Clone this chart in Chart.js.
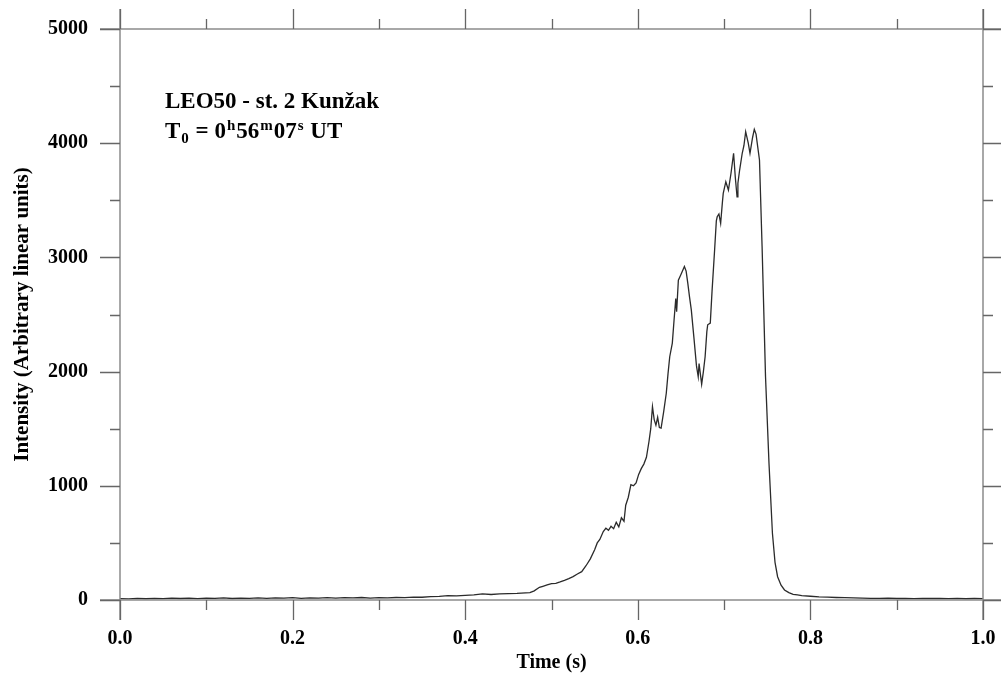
<!DOCTYPE html>
<html lang="en">
<head>
    <meta charset="UTF-8">
    <title>LEO50 - st. 2 Kunžak</title>
    <script src="https://cdn.jsdelivr.net/npm/chart.js"></script>
    <style>
        html, body {
            margin: 0;
            background: #fff;
        }
        #wrap {
            width: 1001px;
            height: 675px;
            position: relative;
        }
    </style>
</head>
<body>
    <div id="wrap">
        <canvas id="lightCurve" width="1001" height="675"></canvas>
    </div>

    <script>
        // time (s) and intensity
        const timeS = [
            0.00, 0.01, 0.02, 0.03, 0.04, 0.05, 0.06, 0.07, 0.08, 0.09,
            0.10, 0.11, 0.12, 0.13, 0.14, 0.15, 0.16, 0.17, 0.18, 0.19,
            0.20, 0.21, 0.22, 0.23, 0.24, 0.25, 0.26, 0.27, 0.28, 0.29,
            0.30, 0.31, 0.32, 0.33, 0.34, 0.35, 0.36, 0.37, 0.38, 0.39,
            0.40, 0.41, 0.42, 0.43, 0.44, 0.45, 0.46, 0.47, 0.475, 0.48,
            0.486, 0.49, 0.495, 0.50, 0.505, 0.51, 0.515, 0.52, 0.525, 0.53,
            0.535, 0.54, 0.545, 0.55, 0.553, 0.556, 0.56, 0.563, 0.566, 0.569,
            0.572, 0.575, 0.578, 0.581, 0.584, 0.586, 0.589, 0.592, 0.595, 0.598,
            0.601, 0.604, 0.607, 0.610, 0.613, 0.615, 0.617, 0.619, 0.621, 0.623,
            0.625, 0.627, 0.630, 0.633, 0.635, 0.637, 0.640, 0.642, 0.644, 0.645,
            0.647, 0.650, 0.654, 0.656, 0.658, 0.660, 0.662, 0.665, 0.668, 0.670,
            0.671, 0.673, 0.674, 0.676, 0.678, 0.680, 0.681, 0.684, 0.686, 0.689,
            0.691, 0.692, 0.694, 0.696, 0.698, 0.699, 0.702, 0.705, 0.708, 0.711,
            0.713, 0.715, 0.716, 0.718, 0.721, 0.723, 0.725, 0.728, 0.730, 0.733,
            0.735, 0.737, 0.741, 0.744, 0.748, 0.752, 0.756, 0.759, 0.762, 0.766,
            0.770, 0.775, 0.780, 0.785, 0.79, 0.80, 0.81, 0.82, 0.83, 0.84,
            0.85, 0.86, 0.87, 0.88, 0.89, 0.90, 0.91, 0.92, 0.93, 0.94,
            0.95, 0.96, 0.97, 0.98, 0.99, 1.00
        ];
        const intensity = [
            12, 10, 14, 11, 15, 12, 16, 13, 17, 12,
            16, 14, 18, 13, 17, 15, 19, 14, 18, 16,
            20, 15, 19, 17, 21, 16, 20, 18, 22, 17,
            21, 19, 22, 20, 25, 24, 29, 31, 38, 36,
            41, 45, 53, 48, 53, 56, 58, 62, 64, 80,
            111, 120, 132, 143, 146, 158, 172, 188, 205, 228,
            248, 300, 360, 440, 500, 530, 600, 628, 610, 645,
            625, 680, 640, 720, 690, 830, 900, 1010, 1000, 1025,
            1100, 1150, 1190, 1250, 1390, 1500, 1693, 1580, 1530, 1600,
            1510, 1505, 1650, 1810, 1980, 2130, 2250, 2450, 2640, 2525,
            2800, 2850, 2920, 2880, 2770, 2650, 2540, 2300, 2050, 1955,
            2070, 1950, 1890, 2000, 2130, 2350, 2410, 2425, 2700, 3065,
            3320, 3356, 3380, 3298, 3480, 3560, 3663, 3590, 3737, 3912,
            3700, 3531, 3650, 3765, 3912, 3980, 4101, 4000, 3912, 4050,
            4121, 4080, 3853, 3100, 1955, 1200, 584, 330, 204, 130,
            88, 65, 50, 44, 38, 33, 28, 25, 22, 20,
            18, 16, 15, 14, 16, 13, 15, 12, 14, 13,
            15, 12, 14, 11, 13, 12
        ];

        const xMajor = [0, 0.2, 0.4, 0.6, 0.8, 1.0];
        const yMajor = [0, 1000, 2000, 3000, 4000, 5000];

        const serif = '"Liberation Serif", "Times New Roman", serif';
        const frameColor = '#8c8c8c';

        function isMajor(v, list) {
            return list.some(m => Math.abs(m - v) < 1e-6);
        }

        // frame with outward ticks on all four sides, lines running past the corners
        const framePlugin = {
            id: 'frame',
            afterDraw(chart) {
                const ctx = chart.ctx;
                const a = chart.chartArea;
                const xs = chart.scales.x;
                const ys = chart.scales.y;
                ctx.save();
                ctx.strokeStyle = frameColor;
                ctx.lineWidth = 1.5;
                ctx.beginPath();
                ctx.moveTo(a.left - 20, a.top); ctx.lineTo(chart.width, a.top);
                ctx.moveTo(a.left - 20, a.bottom); ctx.lineTo(chart.width, a.bottom);
                ctx.moveTo(a.left, a.top - 20); ctx.lineTo(a.left, a.bottom + 20);
                ctx.moveTo(a.right, a.top - 20); ctx.lineTo(a.right, a.bottom + 20);
                ctx.stroke();

                ctx.strokeStyle = '#666';
                ctx.lineWidth = 1.3;
                ctx.beginPath();
                xs.ticks.forEach(t => {
                    const px = Math.round(xs.getPixelForValue(t.value)) + 0.5;
                    const len = isMajor(t.value, xMajor) ? 20 : 10;
                    ctx.moveTo(px, a.bottom); ctx.lineTo(px, a.bottom + len);
                    ctx.moveTo(px, a.top); ctx.lineTo(px, a.top - len);
                });
                ys.ticks.forEach(t => {
                    const py = Math.round(ys.getPixelForValue(t.value)) + 0.5;
                    const len = isMajor(t.value, yMajor) ? 20 : 10;
                    ctx.moveTo(a.left, py); ctx.lineTo(a.left - len, py);
                    ctx.moveTo(a.right, py); ctx.lineTo(a.right + len, py);
                });
                ctx.stroke();

                // annotation in the upper left
                ctx.fillStyle = '#000';
                ctx.textBaseline = 'alphabetic';
                ctx.textAlign = 'left';
                const big = 'bold 23px ' + serif;
                const small = 'bold 15px ' + serif;
                ctx.font = big;
                ctx.fillText('LEO50 - st. 2 Kunžak', 165, 108);

                let x = 165;
                const base = 138;
                const parts = [
                    ['T', big, 0], ['0', small, 5], [' = 0', big, 0], ['h', small, -8],
                    ['56', big, 0], ['m', small, -8], ['07', big, 0], ['s', small, -8],
                    [' UT', big, 0]
                ];
                parts.forEach(p => {
                    ctx.font = p[1];
                    ctx.fillText(p[0], x, base + p[2]);
                    x += ctx.measureText(p[0]).width + 1;
                });
                ctx.restore();
            }
        };

        const points = timeS.map((t, i) => ({ x: t, y: intensity[i] }));

        function noEdgePadding(s) {
            s.paddingTop = 0;
            s.paddingBottom = 0;
            s.paddingLeft = 0;
            s.paddingRight = 0;
        }

        new Chart(document.getElementById('lightCurve'), {
            type: 'line',
            data: {
                datasets: [{
                    data: points,
                    borderColor: '#2b2b2b',
                    borderWidth: 1.3,
                    pointRadius: 0,
                    tension: 0,
                    fill: false
                }]
            },
            options: {
                responsive: false,
                animation: false,
                layout: {
                    padding: { top: 29, right: 18, bottom: 0, left: 0 }
                },
                plugins: {
                    legend: { display: false },
                    tooltip: { enabled: false }
                },
                scales: {
                    x: {
                        type: 'linear',
                        min: 0,
                        max: 1,
                        grid: { display: false },
                        border: { display: false },
                        ticks: {
                            stepSize: 0.1,
                            autoSkip: false,
                            maxRotation: 0,
                            padding: 19,
                            color: '#000',
                            font: { family: serif, size: 20, weight: 'bold' },
                            callback: v => isMajor(v, xMajor) ? v.toFixed(1) : ''
                        },
                        title: {
                            display: true,
                            text: 'Time (s)',
                            color: '#000',
                            font: { family: serif, size: 20, weight: 'bold' },
                            padding: { top: 0, bottom: 0 }
                        },
                        afterFit: s => { s.height = 75; noEdgePadding(s); }
                    },
                    y: {
                        min: 0,
                        max: 5000,
                        grid: { display: false },
                        border: { display: false },
                        ticks: {
                            stepSize: 500,
                            autoSkip: false,
                            padding: 24,
                            color: '#000',
                            font: { family: serif, size: 20, weight: 'bold' },
                            callback: v => isMajor(v, yMajor) ? String(v) : ''
                        },
                        title: {
                            display: true,
                            text: 'Intensity (Arbitrary linear units)',
                            color: '#000',
                            font: { family: serif, size: 21, weight: 'bold' },
                            padding: { top: 10, bottom: 0 }
                        },
                        afterFit: s => { s.width = 120; noEdgePadding(s); }
                    }
                }
            },
            plugins: [framePlugin]
        });
    </script>
</body>
</html>
